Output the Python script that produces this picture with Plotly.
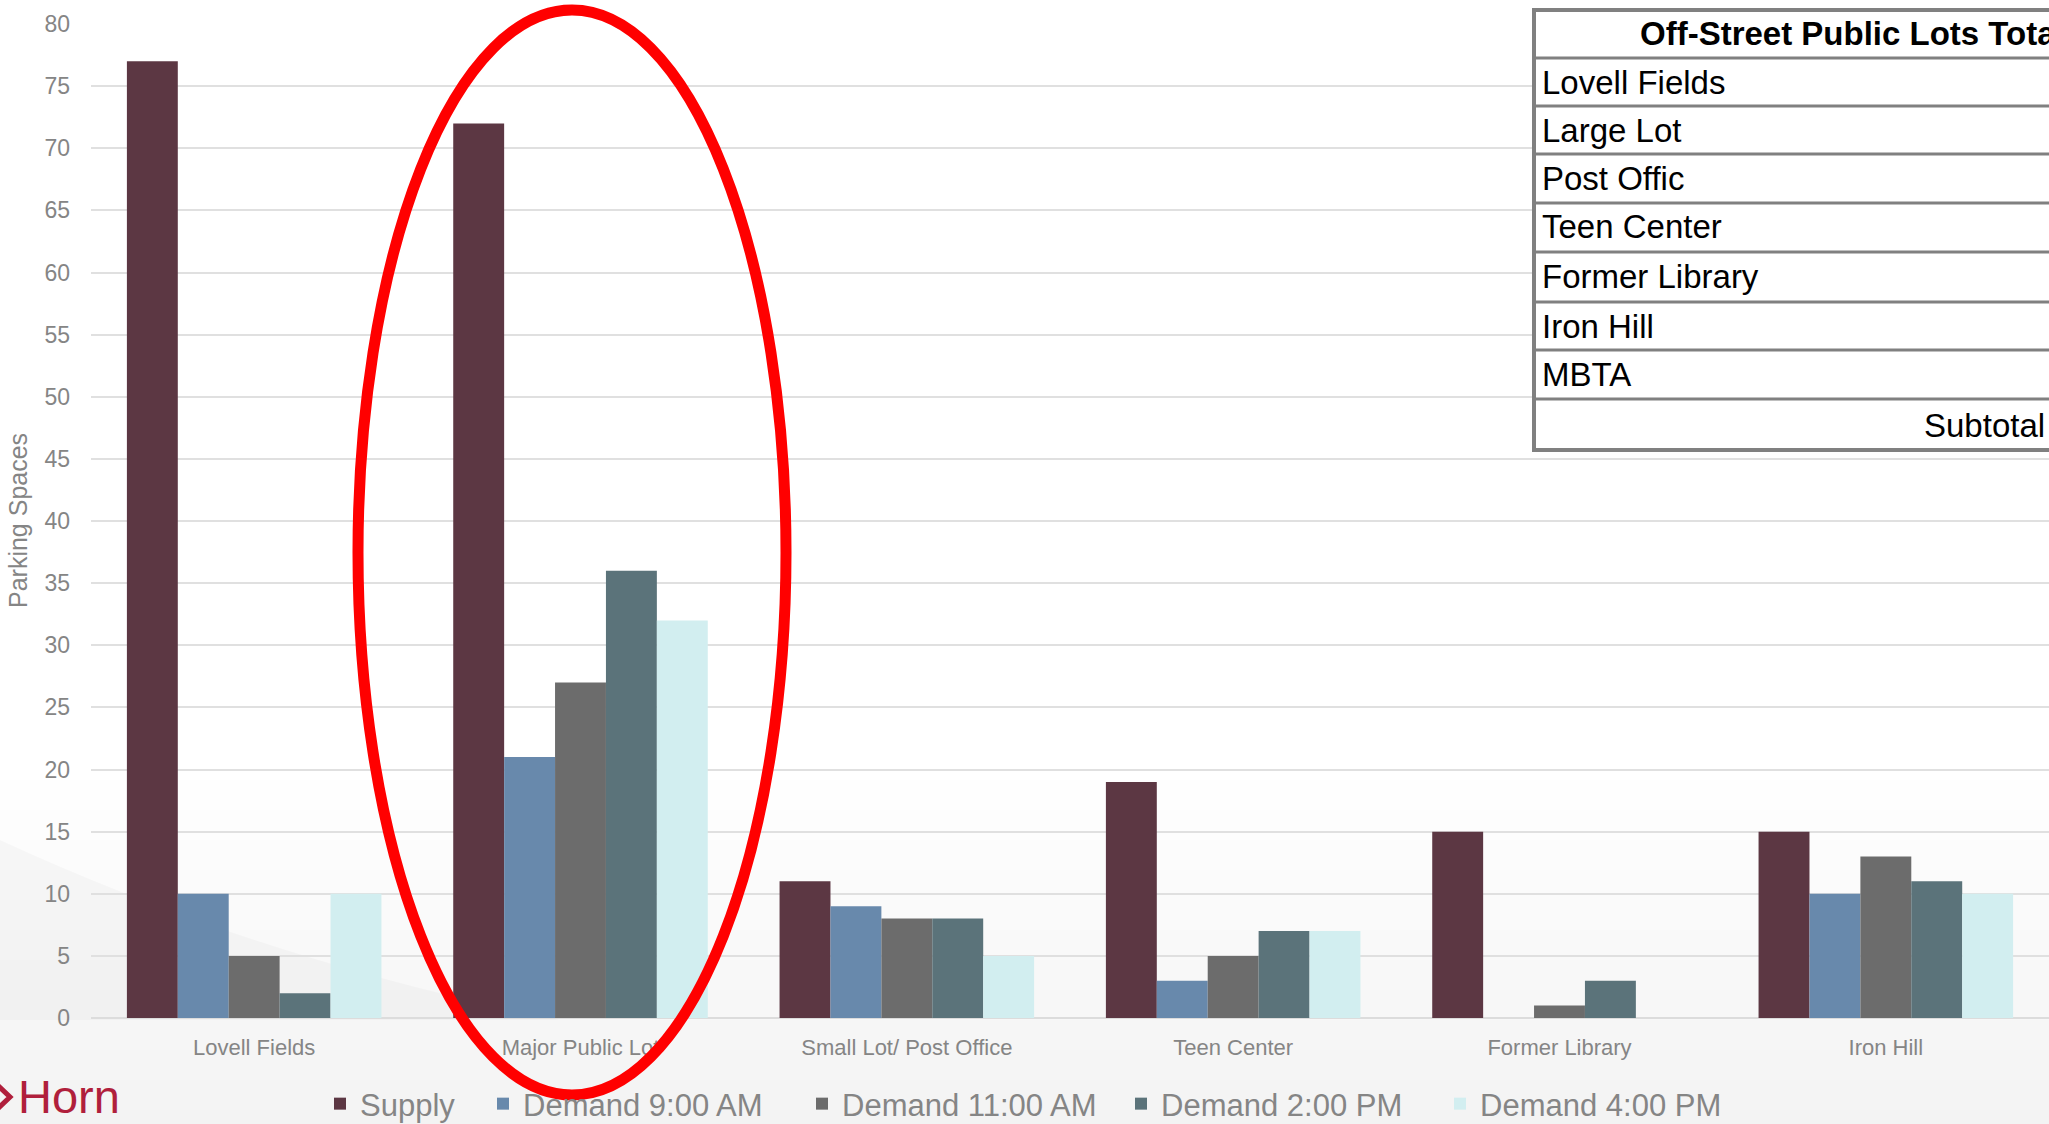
import plotly.graph_objects as go

# Parking supply and observed demand by off-street public lot
categories = ["Lovell Fields", "Major Public Lot", "Small Lot/ Post Office",
              "Teen Center", "Former Library", "Iron Hill"]
supply = [77, 72, 11, 19, 15, 15]
demand_9am = [10, 21, 9, 3, 0, 10]
demand_11am = [5, 27, 8, 5, 1, 13]
demand_2pm = [2, 36, 8, 7, 3, 11]
demand_4pm = [10, 32, 5, 7, 0, 10]

series_names = ["Supply", "Demand 9:00 AM", "Demand 11:00 AM",
                "Demand 2:00 PM", "Demand 4:00 PM"]
series_values = [supply, demand_9am, demand_11am, demand_2pm, demand_4pm]
series_colors = ["#5C3743", "#6889AC", "#6C6C6C", "#5B737A", "#D2EEF0"]

y_ticks = list(range(0, 85, 5))

# Inset lot list
table_header = "Off-Street Public Lots Total"
table_rows = ["Lovell Fields", "Large Lot", "Post Offic", "Teen Center",
              "Former Library", "Iron Hill", "MBTA"]
table_footer = "Subtotal"

W, H = 2049, 1124
ML, MR, MT, MB = 91, 0, 24, 106
PW, PH = W - ML - MR, H - MT - MB


def px(x):
    return (x - ML) / PW


def py(y):
    return (H - MB - y) / PH


TICK_FONT = "Liberation Sans, Arial, sans-serif"
GRAY_TXT = "#858585"

fig = go.Figure()
for i, (name, vals, col) in enumerate(zip(series_names, series_values, series_colors)):
    fig.add_trace(go.Bar(x=categories, y=vals, name=name,
                         legend="legend" if i == 0 else "legend2",
                         marker=dict(color=col, line=dict(width=0))))

shapes = []

# soft grey wash toward the bottom of the page
for i in range(12):
    shapes.append(dict(type="rect", xref="paper", yref="paper", layer="below",
                       x0=px(0), x1=px(W), y0=py(H), y1=py(780 + i * 30),
                       line=dict(width=0), fillcolor="rgba(0,0,0,0.0055)"))
shapes.append(dict(type="path", xref="paper", yref="paper", layer="below",
                   path=(f"M {px(0)},{py(840)} Q {px(260)},{py(960)} {px(560)},{py(1020)} "
                         f"L {px(0)},{py(1020)} Z"),
                   line=dict(width=0), fillcolor="rgba(0,0,0,0.025)"))

# highlight ellipse around the major public lot
shapes.append(dict(type="circle", xref="paper", yref="paper", layer="above",
                   x0=px(358), x1=px(786), y0=py(1095), y1=py(10),
                   line=dict(color="#FF0000", width=11)))

# inset table: body, row rules, outer border
tx0, tx1 = 1534, 2120
row_lines = [58, 106, 154, 203, 252, 302, 350, 399]
shapes.append(dict(type="rect", xref="paper", yref="paper", layer="above",
                   x0=px(tx0), x1=px(tx1), y0=py(450), y1=py(10),
                   line=dict(color="#808080", width=4), fillcolor="white"))
for ry in row_lines:
    shapes.append(dict(type="line", xref="paper", yref="paper", layer="above",
                       x0=px(tx0), x1=px(tx1), y0=py(ry), y1=py(ry),
                       line=dict(color="#808080", width=3)))

# logo chevron
shapes.append(dict(type="path", xref="paper", yref="paper", layer="above",
                   path=(f"M {px(-8)},{py(1080)} L {px(10)},{py(1097)} "
                         f"L {px(-8)},{py(1114)}"),
                   line=dict(color="#B01F3C", width=5)))

annotations = []
annotations.append(dict(xref="paper", yref="paper", x=px(1638), y=py(33),
                        xanchor="left", yanchor="middle", showarrow=False,
                        text="<b>" + table_header + "</b>",
                        font=dict(family=TICK_FONT, size=33, color="black")))
row_centers = [82, 130, 178, 227, 277, 326, 374]
for label, cy in zip(table_rows, row_centers):
    annotations.append(dict(xref="paper", yref="paper", x=px(1540), y=py(cy),
                            xanchor="left", yanchor="middle", showarrow=False,
                            text=label,
                            font=dict(family=TICK_FONT, size=33, color="black")))
annotations.append(dict(xref="paper", yref="paper", x=px(2047), y=py(425),
                        xanchor="right", yanchor="middle", showarrow=False,
                        text=table_footer,
                        font=dict(family=TICK_FONT, size=33, color="black")))
annotations.append(dict(xref="paper", yref="paper", x=px(16), y=py(1096),
                        xanchor="left", yanchor="middle", showarrow=False,
                        text="Horn",
                        font=dict(family="Liberation Sans Narrow, Liberation Sans, sans-serif",
                                  size=47, color="#B01F3C")))
annotations.append(dict(xref="paper", yref="paper", x=px(18), y=py(521),
                        xanchor="center", yanchor="middle", showarrow=False,
                        text="Parking Spaces", textangle=-90,
                        font=dict(family=TICK_FONT, size=25, color=GRAY_TXT)))

legend_common = dict(orientation="h", yanchor="middle", xanchor="left",
                     font=dict(family=TICK_FONT, size=31, color=GRAY_TXT),
                     bgcolor="rgba(0,0,0,0)", itemwidth=30, traceorder="normal")

fig.update_layout(
    width=W, height=H,
    margin=dict(l=ML, r=MR, t=MT, b=MB, autoexpand=False),
    paper_bgcolor="white",
    plot_bgcolor="rgba(0,0,0,0)",
    barmode="group", bargap=0.22, bargroupgap=0,
    shapes=shapes,
    annotations=annotations,
    showlegend=True,
    legend=dict(x=px(320), y=py(1104), **legend_common),
    legend2=dict(x=px(483), y=py(1104), entrywidth=274, **legend_common),
    xaxis=dict(showgrid=False, showline=False, zeroline=False, ticks="",
               tickfont=dict(family=TICK_FONT, size=22, color=GRAY_TXT),
               ticklabelstandoff=14, automargin=False),
    yaxis=dict(range=[0, 80], tickvals=y_ticks, showgrid=True,
               gridcolor="#E0E0E0", gridwidth=2, zeroline=True,
               zerolinecolor="#DCDCDC", zerolinewidth=2, showline=False, ticks="",
               tickfont=dict(family=TICK_FONT, size=23, color=GRAY_TXT),
               ticklabelstandoff=20, automargin=False),
)

fig.write_html("out.html")
